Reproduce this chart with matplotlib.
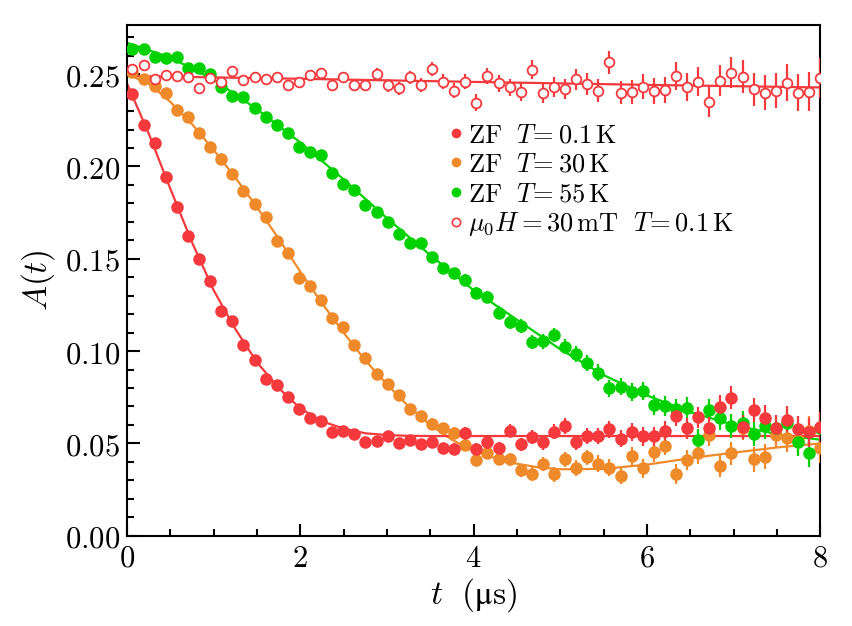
import numpy as np
import matplotlib
matplotlib.use("Agg")
import matplotlib.pyplot as plt
from matplotlib.lines import Line2D
from matplotlib.ticker import MultipleLocator, FuncFormatter

plt.rcParams['mathtext.fontset'] = 'cm'
plt.rcParams['font.family'] = ['DejaVu Serif']

# time bins (us)
t = np.round(0.064 + 0.128 * np.arange(63), 3)

zf_01K = [0.239, 0.2225, 0.2126, 0.1941, 0.1782, 0.1624, 0.1497, 0.1381, 0.1219, 0.1165,
          0.1033, 0.0952, 0.0851, 0.0815, 0.0750, 0.0688, 0.0639, 0.0621, 0.0563, 0.0569,
          0.0551, 0.0508, 0.0515, 0.0542, 0.0503, 0.0518, 0.0496, 0.0506, 0.0473, 0.0472,
          0.0559, 0.0470, 0.0507, 0.0473, 0.0569, 0.0495, 0.0536, 0.0506, 0.0563, 0.0594,
          0.0506, 0.0540, 0.0540, 0.0576, 0.0526, 0.0560, 0.0538, 0.0538, 0.0566, 0.0648,
          0.0582, 0.0641, 0.0582, 0.0699, 0.0748, 0.0590, 0.0681, 0.0639, 0.0582, 0.0627,
          0.0576, 0.0560, 0.0590]
zf_30K = [0.251, 0.2474, 0.2436, 0.2397, 0.2306, 0.2270, 0.2180, 0.2104, 0.2041, 0.1958,
          0.1869, 0.1797, 0.1725, 0.1598, 0.1530, 0.1398, 0.1354, 0.1277, 0.1178, 0.1129,
          0.1033, 0.0964, 0.0874, 0.0824, 0.0764, 0.0688, 0.0646, 0.0606, 0.0582, 0.0556,
          0.0491, 0.0410, 0.0450, 0.0416, 0.0415, 0.0354, 0.0333, 0.0387, 0.0333, 0.0414,
          0.0368, 0.0424, 0.0390, 0.0369, 0.0325, 0.0433, 0.0365, 0.0452, 0.0488, 0.0333,
          0.0410, 0.0446, 0.0545, 0.0378, 0.0446, 0.0582, 0.0414, 0.0428, 0.0545, 0.0527,
          0.0520, 0.0569, 0.0473]
zf_55K = [0.2635, 0.2635, 0.2595, 0.2586, 0.2595, 0.2535, 0.2535, 0.2501, 0.2432, 0.2381,
          0.2378, 0.2315, 0.2270, 0.2225, 0.2180, 0.2105, 0.2078, 0.2063, 0.1963, 0.1904,
          0.1873, 0.1791, 0.1755, 0.1701, 0.1634, 0.1587, 0.1584, 0.1508, 0.1449, 0.1421,
          0.1385, 0.1316, 0.1295, 0.1208, 0.1157, 0.1137, 0.1050, 0.1053, 0.1087, 0.1024,
          0.0984, 0.0934, 0.0883, 0.0800, 0.0807, 0.0780, 0.0785, 0.0708, 0.0703, 0.0686,
          0.0693, 0.0518, 0.0681, 0.0636, 0.0594, 0.0612, 0.0551, 0.0594, 0.0582, 0.0612,
          0.0509, 0.0450, 0.0582]
lf_30mT = [0.2527, 0.2550, 0.2472, 0.2496, 0.2490, 0.2483, 0.2424, 0.2478, 0.2460, 0.2519,
           0.2469, 0.2483, 0.2472, 0.2483, 0.2441, 0.2460, 0.2496, 0.2505, 0.2441, 0.2483,
           0.2441, 0.2441, 0.2501, 0.2441, 0.2424, 0.2483, 0.2441, 0.2528, 0.2460, 0.2411,
           0.2460, 0.2346, 0.2490, 0.2451, 0.2429, 0.2405, 0.2523, 0.2397, 0.2429, 0.2418,
           0.2472, 0.2447, 0.2411, 0.2564, 0.2400, 0.2405, 0.2432, 0.2411, 0.2414, 0.2490,
           0.2429, 0.2460, 0.2351, 0.2465, 0.2508, 0.2487, 0.2418, 0.2400, 0.2411, 0.2454,
           0.2400, 0.2405, 0.2478]

err_zf = [0.0013, 0.0014, 0.0014, 0.0014, 0.0015, 0.0015, 0.0016, 0.0016, 0.0017, 0.0017,
          0.0018, 0.0018, 0.0019, 0.0019, 0.0020, 0.0020, 0.0021, 0.0022, 0.0022, 0.0023,
          0.0024, 0.0024, 0.0025, 0.0026, 0.0027, 0.0027, 0.0028, 0.0029, 0.0030, 0.0031,
          0.0032, 0.0033, 0.0033, 0.0034, 0.0035, 0.0037, 0.0038, 0.0039, 0.0040, 0.0041,
          0.0042, 0.0043, 0.0045, 0.0046, 0.0047, 0.0049, 0.0050, 0.0052, 0.0053, 0.0055,
          0.0056, 0.0058, 0.0060, 0.0062, 0.0063, 0.0065, 0.0067, 0.0069, 0.0071, 0.0073,
          0.0075, 0.0078, 0.0080]
err_lf = [0.0018, 0.0019, 0.0019, 0.0019, 0.0020, 0.0020, 0.0022, 0.0022, 0.0023, 0.0023,
          0.0024, 0.0024, 0.0026, 0.0026, 0.0027, 0.0027, 0.0028, 0.0030, 0.0030, 0.0031,
          0.0032, 0.0032, 0.0034, 0.0035, 0.0036, 0.0036, 0.0038, 0.0039, 0.0041, 0.0042,
          0.0043, 0.0045, 0.0045, 0.0046, 0.0047, 0.0050, 0.0051, 0.0053, 0.0054, 0.0055,
          0.0057, 0.0058, 0.0061, 0.0062, 0.0063, 0.0066, 0.0068, 0.0070, 0.0072, 0.0074,
          0.0076, 0.0078, 0.0081, 0.0084, 0.0085, 0.0088, 0.0090, 0.0093, 0.0096, 0.0099,
          0.0101, 0.0105, 0.0108]

# fit curves
fit_t_01K = [0, 0.25, 0.5, 0.75, 1.0, 1.25, 1.5, 1.75, 2.0, 2.25, 2.5, 2.75, 3.0, 3.25, 3.5, 4, 5, 6, 7, 8]
fit_01K = [0.245, 0.218, 0.188, 0.159, 0.133, 0.112, 0.094, 0.080, 0.069, 0.062, 0.058, 0.0555,
           0.0545, 0.0541, 0.054, 0.054, 0.054, 0.054, 0.054, 0.054]
fit_t_30K = [0, 0.25, 0.5, 0.75, 1.0, 1.25, 1.5, 1.75, 2.0, 2.25, 2.5, 2.75, 3.0, 3.25, 3.5,
             3.75, 4.0, 4.25, 4.5, 4.75, 5.0, 5.5, 6.0, 6.5, 7.0, 7.5, 8.0]
fit_30K = [0.250, 0.245, 0.235, 0.223, 0.209, 0.194, 0.178, 0.161, 0.143, 0.126, 0.110, 0.095,
           0.082, 0.070, 0.060, 0.052, 0.046, 0.042, 0.039, 0.037, 0.036, 0.0362, 0.0385,
           0.0420, 0.0450, 0.0478, 0.0500]
fit_t_55K = [0, 0.5, 1.0, 1.5, 2.0, 2.5, 3.0, 3.5, 4.0, 4.5, 5.0, 5.5, 6.0, 6.5, 7.0, 7.5, 8.0]
fit_55K = [0.267, 0.259, 0.247, 0.231, 0.213, 0.193, 0.172, 0.152, 0.133, 0.117, 0.101, 0.087,
           0.076, 0.067, 0.060, 0.055, 0.052]
fit_t_lf = [0, 2, 4, 6, 8]
fit_lf = [0.2490, 0.2475, 0.2458, 0.2442, 0.2428]

labels = [r'$\mathrm{ZF}\ \ T\!=0.1\,\mathrm{K}$',
          r'$\mathrm{ZF}\ \ T\!=30\,\mathrm{K}$',
          r'$\mathrm{ZF}\ \ T\!=55\,\mathrm{K}$',
          r'$\mu_0H = 30\,\mathrm{mT}\ \ T\!=0.1\,\mathrm{K}$']

c_red = '#f5393c'
c_orange = '#ef8a2a'
c_green = '#00d100'

fig = plt.figure(figsize=(8.52, 6.26), dpi=100)
ax = fig.add_axes([0.149, 0.1442, 0.8137, 0.8158])

lw = 1.6
ax.plot(fit_t_30K, fit_30K, color=c_orange, lw=lw, zorder=2)
ax.plot(fit_t_55K, fit_55K, color=c_green, lw=lw, zorder=2)
ax.plot(fit_t_lf, fit_lf, color=c_red, lw=lw, zorder=2)
ax.plot(fit_t_01K, fit_01K, color=c_red, lw=lw, zorder=2)

ekw = dict(fmt='o', ms=8, elinewidth=1.6, capsize=0, zorder=3)
ax.errorbar(t, zf_30K, yerr=err_zf, color=c_orange, **ekw)
ax.errorbar(t, zf_55K, yerr=err_zf, color=c_green, **ekw)
ax.errorbar(t, zf_01K, yerr=err_zf, color=c_red, **ekw)
ax.errorbar(t, lf_30mT, yerr=err_lf, fmt='o', ms=7, mfc='white', mec=c_red, mew=1.3,
            color=c_red, elinewidth=1.6, capsize=0, zorder=3)

ax.set_xlim(0, 8)
ax.set_ylim(0, 0.2766)
ax.xaxis.set_major_locator(MultipleLocator(2))
ax.xaxis.set_minor_locator(MultipleLocator(0.5))
ax.yaxis.set_major_locator(MultipleLocator(0.05))
ax.yaxis.set_minor_locator(MultipleLocator(0.01))
ax.xaxis.set_major_formatter(FuncFormatter(lambda v, p: r'$%d$' % round(v)))
ax.yaxis.set_major_formatter(FuncFormatter(lambda v, p: r'$%.2f$' % v))
ax.tick_params(which='both', direction='in', top=False, right=False, width=1.5,
               labelsize=22, pad=5)
ax.tick_params(which='major', length=9)
ax.tick_params(which='minor', length=5)
for s in ax.spines.values():
    s.set_linewidth(1.5)

ax.set_xlabel(r'$t\ \ (\mathrm{μs})$', fontsize=24, labelpad=2)
ax.set_ylabel(r'$A(t)$', fontsize=24, labelpad=6)

handles = [Line2D([], [], marker='o', ls='none', color=c_red, ms=6),
           Line2D([], [], marker='o', ls='none', color=c_orange, ms=6),
           Line2D([], [], marker='o', ls='none', color=c_green, ms=6),
           Line2D([], [], marker='o', ls='none', mfc='white', mec=c_red, mew=1.2, ms=6)]
ax.legend(handles, labels, loc='upper left', bbox_to_anchor=(0.463, 0.81), frameon=False,
          fontsize=19, handlelength=0.6, handletextpad=0.15, labelspacing=0.17,
          borderpad=0, borderaxespad=0)

fig.savefig('out.png', dpi=100)
